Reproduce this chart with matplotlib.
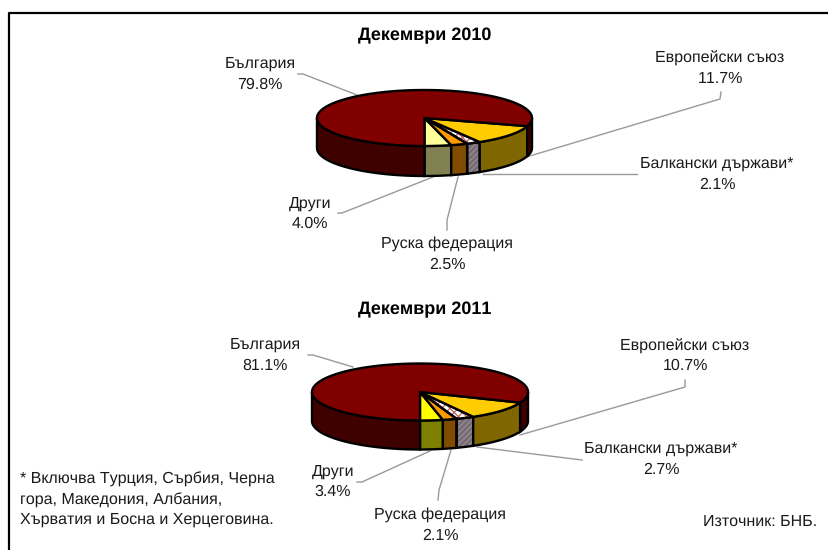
"""Два псевдо-3D кръга: структура по държави, декември 2010 и декември 2011."""
import numpy as np
import matplotlib
matplotlib.use("Agg")
import matplotlib.pyplot as plt
from matplotlib.patches import Polygon

plt.rcParams["font.family"] = ["Liberation Sans", "DejaVu Sans"]
plt.rcParams["hatch.linewidth"] = 0.9
plt.rcParams["text.hinting"] = "no_hinting"
plt.rcParams["text.hinting_factor"] = 1
plt.rcParams["text.kerning_factor"] = 10

labels = ["Други", "Руска федерация", "Балкански държави*", "Европейски съюз", "България"]
values_2010 = [4.0, 2.5, 2.1, 11.7, 79.8]
values_2011 = [3.4, 2.1, 2.7, 10.7, 81.1]
title_2010 = "Декември 2010"
title_2011 = "Декември 2011"
footnote = ["* Включва Турция, Сърбия, Черна", "гора, Македония, Албания,", "Хърватия и Босна и Херцеговина."]
source = "Източник: БНБ."

# центрове на надписите (етикет, стойност) в пиксели
pos_2010 = [(310, 204, 224), (447, 244, 265), (717, 164, 185), (720, 58, 79), (260, 64, 85)]
pos_2011 = [(333, 472, 492), (440, 515, 536), (661, 449, 470), (685, 346, 366), (265, 345, 366)]

leaders_2010 = [
    [(338, 213), (342, 213), (433, 177)],
    [(447, 230), (447, 220), (458, 177)],
    [(637, 174), (483, 174)],
    [(721, 92), (720, 99), (523, 158)],
    [(298, 74), (303, 74), (357, 95)],
]
leaders_2011 = [
    [(357, 482), (362, 482), (430, 451)],
    [(438, 500), (439, 490), (451, 450)],
    [(582, 460), (477, 447)],
    [(685, 380), (685, 387), (520, 435)],
    [(308, 355), (313, 355), (353, 367)],
]

top_2010 = ["#FFFF99", "#FF9900", "white", "#FFCC00", "#800000"]
top_2011 = ["#FFFF00", "#FF9900", "white", "#FFCC00", "#800000"]
side_2010 = ["#808050", "#804D00", "#8C8088", "#806600", "#3F0000"]
side_2011 = ["#808000", "#804D00", "#8C8088", "#806600", "#3F0000"]
BALKAN = 2
EDGE_LW = 1.7
FS = 11.7


def arc(cx, cy, rx, ry, a, b):
    t = np.radians(np.linspace(a, b, max(int(abs(b - a)) + 2, 3)))
    return np.column_stack([cx + rx * np.sin(t), cy + ry * np.cos(t)])


def draw_pie(ax, values, tops, sides, cx, cy, rx, ry, depth):
    edges = np.concatenate([[0], np.cumsum(values)]) / sum(values) * 360

    # стени: видима е само предната половина на кръга
    for i in range(len(values)):
        a, b = edges[i], edges[i + 1]
        for lo, hi in [(a, min(b, 90)), (max(a, 270), b)]:
            if hi <= lo:
                continue
            front = arc(cx, cy, rx, ry, lo, hi)
            back = front[::-1] + [0, depth]
            pts = np.vstack([front, back])
            if i == BALKAN:
                ax.add_patch(Polygon(pts, fc=sides[i], ec="#6A6068", hatch="//////", lw=0, zorder=2))
                ax.add_patch(Polygon(pts, fc="none", ec="black", lw=EDGE_LW, zorder=3))
            else:
                ax.add_patch(Polygon(pts, fc=sides[i], ec="black", lw=EDGE_LW, zorder=3))

    # горна повърхност
    for i in range(len(values)):
        pts = np.vstack([[cx, cy], arc(cx, cy, rx, ry, edges[i], edges[i + 1])])
        if i == BALKAN:
            ax.add_patch(Polygon(pts, fc=tops[i], ec="#C06060", hatch="xxxx", lw=0, zorder=4))
            ax.add_patch(Polygon(pts, fc="none", ec="black", lw=EDGE_LW, zorder=5))
        else:
            ax.add_patch(Polygon(pts, fc=tops[i], ec="black", lw=EDGE_LW, zorder=5))


def draw_labels(ax, values, positions, leaders):
    for label, val, (x, y1, y2), line in zip(labels, values, positions, leaders):
        ax.text(x, y1, label, ha="center", va="center", fontsize=FS, color="#1A1A1A")
        ax.text(x, y2, f"{val:.1f}%", ha="center", va="center", fontsize=FS, color="#1A1A1A")
        xs, ys = zip(*line)
        ax.plot(xs, ys, color="#999999", lw=1.0, zorder=1)


fig = plt.figure(figsize=(8.29, 5.5), dpi=100)
ax = fig.add_axes([0, 0, 1, 1])
ax.set_xlim(0, 829)
ax.set_ylim(550, 0)
ax.axis("off")

# рамка само отгоре и отляво
ax.plot([9.5, 9.5, 829], [550, 12.5, 12.5], color="black", lw=1.6, zorder=1)

draw_labels(ax, values_2010, pos_2010, leaders_2010)
draw_labels(ax, values_2011, pos_2011, leaders_2011)
draw_pie(ax, values_2010, top_2010, side_2010, 424.5, 118, 107.5, 28, 30)
draw_pie(ax, values_2011, top_2011, side_2011, 420, 392, 108, 28.5, 29)

ax.text(425, 35.5, title_2010, ha="center", va="center", fontsize=13.2, fontweight="bold")
ax.text(425, 309.5, title_2011, ha="center", va="center", fontsize=13.2, fontweight="bold")

for line, y in zip(footnote, [479, 500, 520]):
    ax.text(20, y, line, ha="left", va="center", fontsize=FS, color="#1A1A1A")
ax.text(703, 522, source, ha="left", va="center", fontsize=FS, color="#1A1A1A")

fig.savefig("out.png", dpi=100)
